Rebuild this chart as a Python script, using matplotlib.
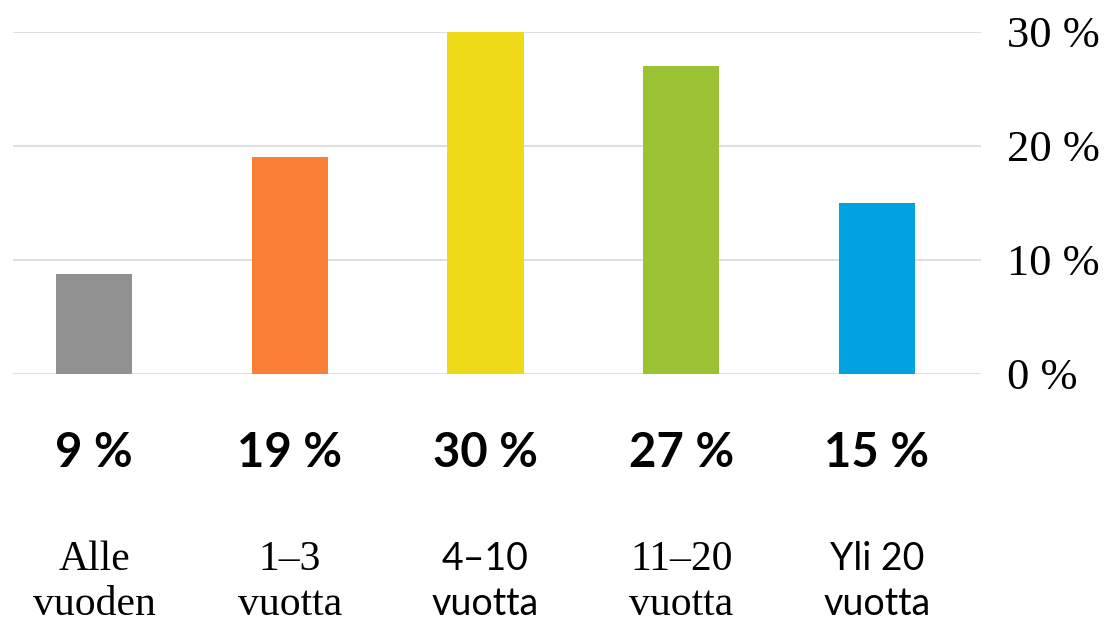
import numpy as np
import matplotlib.pyplot as plt

# data
categories = [("Alle", "vuoden"), ("1–3", "vuotta"), ("4–10", "vuotta"),
              ("11–20", "vuotta"), ("Yli 20", "vuotta")]
values = [8.8, 19, 30, 27, 15]
value_labels = ["9 %", "19 %", "30 %", "27 %", "15 %"]
colors = ["#919191", "#F97E36", "#EFDA19", "#9BC232", "#00A2E0"]
label_fonts = ["serif", "serif", "sans", "serif", "sans"]
yticks = [0, 10, 20, 30]

SERIF = ["Liberation Serif", "DejaVu Serif"]
SANS = ["Lato", "DejaVu Sans"]

fig = plt.figure(figsize=(11.04, 6.26), dpi=100)
ax = fig.add_axes([13 / 1104, 0.4026, 968 / 1104, 0.5463])

x = np.arange(len(values))
ax.bar(x, values, width=0.39, color=colors, zorder=2)

ax.set_xlim(-0.414, 4.531)
ax.set_ylim(0, 30)
ax.set_yticks(yticks)
ax.set_yticklabels([f"{t} %" for t in yticks], fontfamily=SERIF, fontsize=32)
ax.yaxis.tick_right()
ax.tick_params(axis="y", length=0, pad=19)
ax.set_xticks([])
ax.grid(axis="y", color="#D9D9D9", linewidth=1.2, zorder=0)
for s in ax.spines.values():
    s.set_visible(False)

tr = ax.get_xaxis_transform()
for i, (v, lab) in enumerate(zip(values, value_labels)):
    ax.text(i, -0.272, lab, transform=tr, ha="center", va="baseline",
            fontfamily=SANS, fontweight="bold", fontsize=34)
    fam = SERIF if label_fonts[i] == "serif" else SANS
    size = 30 if label_fonts[i] == "serif" else 27
    ax.text(i, -0.572, categories[i][0], transform=tr, ha="center",
            va="baseline", fontfamily=fam, fontsize=size)
    ax.text(i, -0.704, categories[i][1], transform=tr, ha="center",
            va="baseline", fontfamily=fam, fontsize=size)

fig.savefig("out.png", dpi=100)
